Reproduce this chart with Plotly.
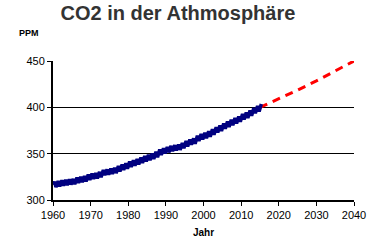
import plotly.graph_objects as go

# Measured CO2 (Mauna Loa style): January 1960 start value, then May highs and October lows per year
years = list(range(1960, 2016))
start_value = 316.5
may_highs = [319.7, 320.4, 321.3, 321.8, 322.4, 322.8, 324.2, 325.0, 325.8, 327.4,
             328.5, 329.1, 330.3, 332.5, 333.0, 333.9, 334.8, 336.6, 338.2, 339.6,
             341.5, 342.9, 344.2, 345.8, 347.4, 348.8, 350.2, 352.0, 354.4, 355.9,
             357.2, 358.4, 359.2, 359.9, 361.6, 363.6, 365.4, 366.5, 369.5, 371.2,
             372.5, 374.1, 376.3, 378.6, 380.3, 382.6, 384.7, 386.6, 388.4, 390.2,
             392.7, 394.4, 396.6, 399.3, 401.4, 403.6]
oct_lows = [313.9, 314.6, 315.5, 316.0, 316.6, 317.0, 318.4, 319.2, 320.0, 321.6,
            322.7, 323.3, 324.5, 326.7, 327.2, 328.1, 329.0, 330.8, 332.4, 333.8,
            335.7, 337.1, 338.4, 340.0, 341.6, 343.0, 344.4, 346.2, 348.6, 350.1,
            351.4, 352.6, 353.4, 354.1, 355.8, 357.8, 359.6, 360.7, 363.7, 365.4,
            366.7, 368.3, 370.5, 372.8, 374.5, 376.8, 378.9, 380.8, 382.6, 384.4,
            386.9, 388.6, 390.8, 393.5, 395.6, 397.8]

# Projection (red dashed)
proj_years = [2015, 2020, 2025, 2030, 2035, 2040]
proj_values = [400.0, 409.0, 418.5, 428.5, 439.0, 450.0]

x_tick_vals = [1960, 1970, 1980, 1990, 2000, 2010, 2020, 2030, 2040]
y_tick_vals = [300, 350, 400, 450]

mx = [1960.0]
my = [start_value]
for i, yr in enumerate(years):
    mx += [yr + 0.37, yr + 0.79]
    my += [may_highs[i], oct_lows[i]]
# drop trailing October 2015 value (series ends mid-2015)
mx = mx[:-1]
my = my[:-1]

FONT = "Liberation Sans, Arial, sans-serif"

fig = go.Figure()
fig.add_trace(go.Scatter(x=proj_years, y=proj_values, mode="lines",
                         line=dict(color="#ff0000", width=3, dash="8px,6px"),
                         showlegend=False, hoverinfo="skip"))
fig.add_trace(go.Scatter(x=mx, y=my, mode="lines",
                         line=dict(color="#000080", width=3.5),
                         showlegend=False, hoverinfo="skip"))

fig.update_layout(
    width=381, height=241,
    margin=dict(l=53, r=27, t=61, b=41),
    paper_bgcolor="white", plot_bgcolor="white",
    font=dict(family=FONT, size=11, color="black"),
    title=dict(text="<b>CO2 in der Athmosphäre</b>", x=0.467, xanchor="center",
               y=0.945, yanchor="middle",
               font=dict(family=FONT, size=20, color="#333333")),
    xaxis=dict(range=[1960, 2040], tickvals=x_tick_vals, showgrid=False,
               showline=True, linecolor="black", linewidth=2,
               ticks="outside", ticklen=4, tickwidth=1, tickcolor="black",
               zeroline=False, automargin=False,
               title=dict(text="<b>Jahr</b>", standoff=9,
                          font=dict(family=FONT, size=10, color="black"))),
    yaxis=dict(range=[300, 450], tickvals=y_tick_vals, showgrid=True,
               gridcolor="black", gridwidth=1,
               showline=True, linecolor="black", linewidth=2,
               ticks="outside", ticklen=4, tickwidth=1, tickcolor="black",
               zeroline=False, automargin=False),
    annotations=[dict(text="<b>PPM</b>", xref="paper", yref="paper",
                      x=-0.12, y=1.2, xanchor="left", yanchor="middle",
                      showarrow=False, font=dict(family=FONT, size=9, color="black"))],
)

fig.write_html("out.html", config={"displayModeBar": False},
               post_script="document.body.style.margin='0px';document.body.style.overflow='hidden';")
